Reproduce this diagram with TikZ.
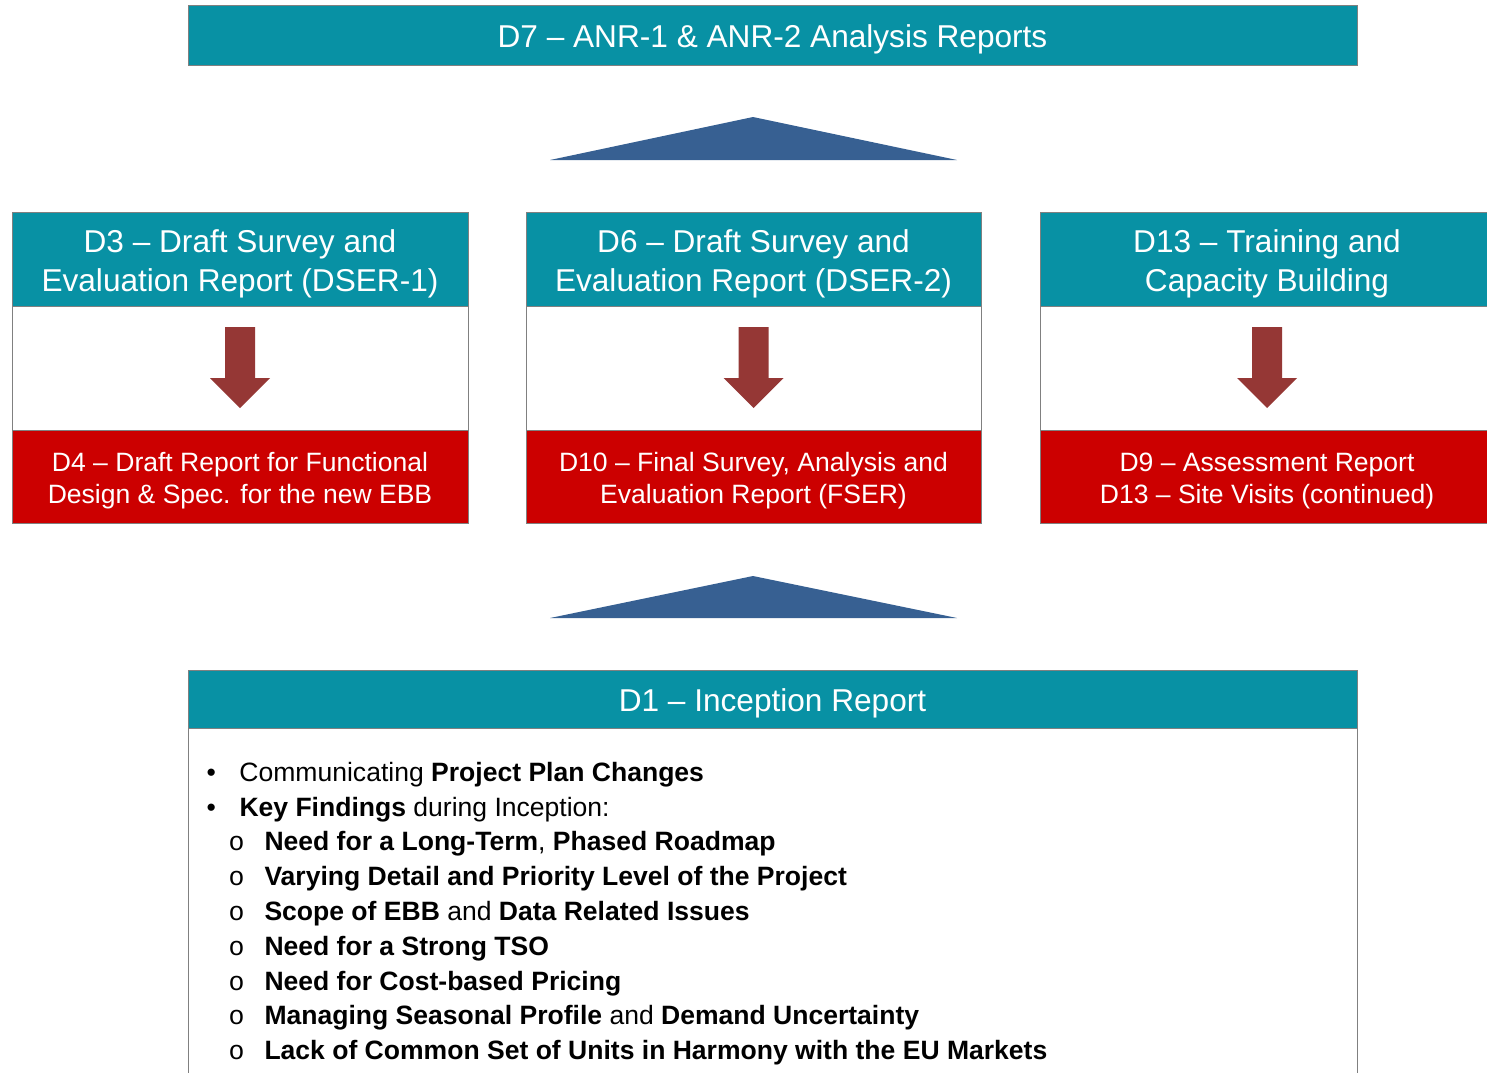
\documentclass[tikz,border=0pt]{standalone}
\usepackage{fontspec}
\setmainfont{Liberation Sans}
\newfontfamily\circfont{Liberation Mono}

\definecolor{hdrteal}{RGB}{8,145,164}
\definecolor{repred}{RGB}{204,0,0}
\definecolor{arrowred}{RGB}{149,55,53}
\definecolor{triblue}{RGB}{55,96,146}
\definecolor{boxgray}{RGB}{128,128,128}

\tikzset{every picture/.style={line width=0.75pt}}
\tikzset{
  hdrbox/.style={fill=hdrteal, draw=boxgray},
  redbox/.style={fill=repred, draw=boxgray},
  plainbox/.style={fill=white, draw=boxgray},
  tri/.style={fill=triblue},
  downarrow/.style={fill=arrowred},
  hdrtext/.style={text=white, align=center, inner sep=0.75pt, font=\fontsize{23.7}{29}\selectfont},
  redtext/.style={text=white, align=center, inner sep=0.75pt, font=\fontsize{19.9}{24}\selectfont},
  pointtext/.style={anchor=base west, inner sep=0pt, font=\fontsize{19.9}{24}\selectfont}
}

\begin{document}
\begin{tikzpicture}[x=0.75pt,y=0.75pt,yscale=-1,xscale=1]
\useasboundingbox (0,0) rectangle (1487,1072);
\clip (0,0) rectangle (1487,1072);

%Shape: Rectangle [D7]
\draw [hdrbox] (188,5) rectangle (1357,65) ;
%Shape: Triangle [upper]
\fill [tri] (550,160) -- (753,117) -- (957,160) -- cycle ;

%Shape: Rectangle [column 1]
\draw [plainbox] (12,212) rectangle (468,523) ;
\draw [hdrbox] (12,212) rectangle (468,306) ;
\draw [redbox] (12,430) rectangle (468,523) ;
%Shape: Down Arrow [column 1]
\fill [downarrow] (225,327) -- (255,327) -- (255,378) -- (270,378) -- (240,408) -- (210,378) -- (225,378) -- cycle ;

%Shape: Rectangle [column 2]
\draw [plainbox] (526,212) rectangle (981,523) ;
\draw [hdrbox] (526,212) rectangle (981,306) ;
\draw [redbox] (526,430) rectangle (981,523) ;
%Shape: Down Arrow [column 2]
\fill [downarrow] (738.5,327) -- (768.5,327) -- (768.5,378) -- (783.5,378) -- (753.5,408) -- (723.5,378) -- (738.5,378) -- cycle ;

%Shape: Rectangle [column 3]
\draw [plainbox] (1040,212) rectangle (1496,523) ;
\draw [hdrbox] (1040,212) rectangle (1496,306) ;
\draw [redbox] (1040,430) rectangle (1496,523) ;
%Shape: Down Arrow [column 3]
\fill [downarrow] (1252,327) -- (1282,327) -- (1282,378) -- (1297,378) -- (1267,408) -- (1237,378) -- (1252,378) -- cycle ;

%Shape: Triangle [lower]
\fill [tri] (550,618) -- (753,576) -- (957,618) -- cycle ;

%Shape: Rectangle [D1]
\draw [plainbox] (188,670) rectangle (1357,1090) ;
\draw [hdrbox] (188,670) rectangle (1357,728) ;

% Text Node
\node (d7) [hdrtext] at (772.5,39) {D7 – ANR-1 \& ANR-2 Analysis Reports};
% Text Node
\node (d3) [hdrtext] at (240,264) {D3 – Draft Survey and\\Evaluation Report (DSER-1)};
% Text Node
\node (d4) [redtext] at (240,481) {D4 – Draft Report for Functional\\Design \& Spec. for the new EBB};
% Text Node
\node (d6) [hdrtext] at (753.5,264) {D6 – Draft Survey and\\Evaluation Report (DSER-2)};
% Text Node
\node (d10) [redtext] at (753.5,481) {D10 – Final Survey, Analysis and\\Evaluation Report (FSER)};
% Text Node
\node (d13) [hdrtext] at (1267,264) {D13 – Training and\\Capacity Building};
% Text Node
\node (d9) [redtext] at (1267,481) {D9 – Assessment Report\\D13 – Site Visits (continued)};
% Text Node
\node (d1) [hdrtext] at (772.5,703) {D1 – Inception Report};

% Bullet Points
\node (pt1) [pointtext] at (206,781) {\makebox[24.75pt][l]{•}Communicating \textbf{Project Plan Changes}};
\node (pt2) [pointtext] at (206,816) {\makebox[24.75pt][l]{•}\textbf{Key Findings} during Inception:};
\node (f1) [pointtext] at (228,850) {\makebox[27pt][l]{\circfont o}\textbf{Need for a Long-Term}, \textbf{Phased Roadmap}};
\node (f2) [pointtext] at (228,885) {\makebox[27pt][l]{\circfont o}\textbf{Varying Detail and Priority Level of the Project}};
\node (f3) [pointtext] at (228,920) {\makebox[27pt][l]{\circfont o}\textbf{Scope of EBB} and \textbf{Data Related Issues}};
\node (f4) [pointtext] at (228,955) {\makebox[27pt][l]{\circfont o}\textbf{Need for a Strong TSO}};
\node (f5) [pointtext] at (228,990) {\makebox[27pt][l]{\circfont o}\textbf{Need for Cost-based Pricing}};
\node (f6) [pointtext] at (228,1024) {\makebox[27pt][l]{\circfont o}\textbf{Managing Seasonal Profile} and \textbf{Demand Uncertainty}};
\node (f7) [pointtext] at (228,1059) {\makebox[27pt][l]{\circfont o}\textbf{Lack of Common Set of Units in Harmony with the EU Markets}};

\end{tikzpicture}
\end{document}
